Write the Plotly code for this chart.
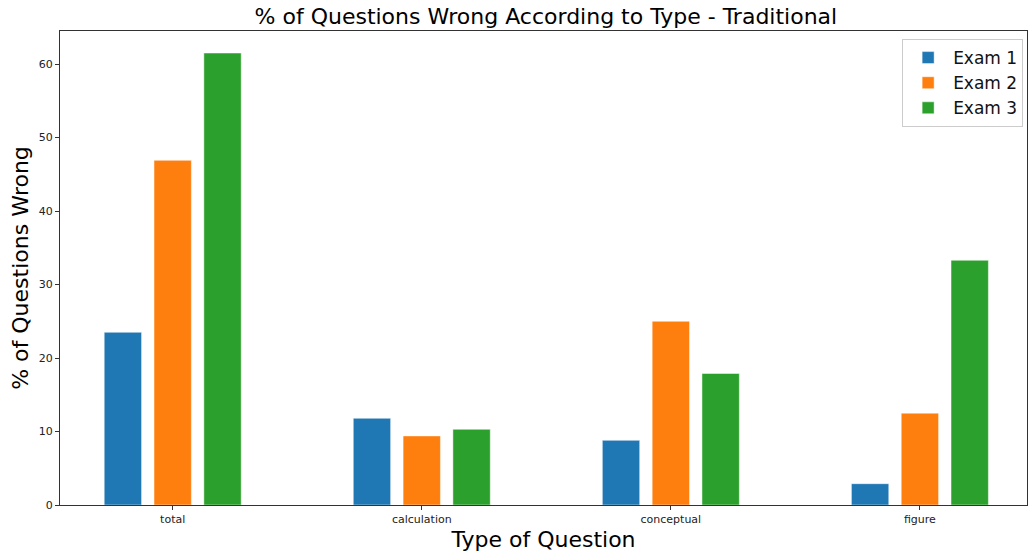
import plotly.graph_objects as go

categories = ["total", "calculation", "conceptual", "figure"]
exam1 = [23.5, 11.8, 8.8, 2.9]
exam2 = [46.9, 9.4, 25.0, 12.5]
exam3 = [61.5, 10.3, 17.9, 33.3]
series_names = ["Exam 1", "Exam 2", "Exam 3"]
colors = ["#1f77b4", "#ff7f0e", "#2ca02c"]

x_idx = list(range(len(categories)))
offsets = [-0.2, 0.0, 0.2]

fig = go.Figure()
for name, vals, col, off in zip(series_names, [exam1, exam2, exam3], colors, offsets):
    fig.add_trace(go.Bar(
        x=[i + off for i in x_idx], y=vals, name=name, width=0.15,
        marker=dict(color=col, line=dict(color="rgba(255,255,255,0.6)", width=0.8)),
    ))

font_family = "DejaVu Sans"
fig.update_layout(
    width=1028, height=554,
    margin=dict(l=60, r=1, t=31, b=49),
    paper_bgcolor="white", plot_bgcolor="white",
    font=dict(family=font_family, color="black"),
    title=dict(text="% of Questions Wrong According to Type - Traditional",
               x=0.531, xanchor="center", y=0.971, yanchor="middle",
               font=dict(size=22, color="black")),
    barmode="overlay",
    showlegend=True,
    legend=dict(x=0.996, y=0.983, xanchor="right", yanchor="top",
                bgcolor="white", bordercolor="#cccccc", borderwidth=1,
                font=dict(size=17, color="#111"), tracegroupgap=0,
                itemwidth=40),
    xaxis=dict(
        range=[-0.4525, 3.43], tickmode="array", tickvals=x_idx, ticktext=categories,
        showline=True, linecolor="#333", linewidth=1, mirror=True,
        ticks="outside", ticklen=4, tickcolor="#333",
        tickfont=dict(size=11, color="#222"), showgrid=False, zeroline=False,
        title=dict(text="Type of Question", font=dict(size=22, color="black"), standoff=6),
    ),
    yaxis=dict(
        range=[0, 64.5], tickmode="array", tickvals=[0, 10, 20, 30, 40, 50, 60],
        showline=True, linecolor="#333", linewidth=1, mirror=True,
        ticks="outside", ticklen=4, tickcolor="#333",
        tickfont=dict(size=11, color="#222"), showgrid=False, zeroline=False,
        title=dict(text="% of Questions Wrong", font=dict(size=22, color="black"), standoff=4),
    ),
)

fig.write_html("out.html", config={"displayModeBar": False})

# remove default page margin so the figure sits at the window's top-left corner
with open("out.html", "r", encoding="utf-8") as f:
    html = f.read()
html = html.replace("<body>", '<body style="margin:0;padding:0;overflow:hidden">', 1)
with open("out.html", "w", encoding="utf-8") as f:
    f.write(html)
